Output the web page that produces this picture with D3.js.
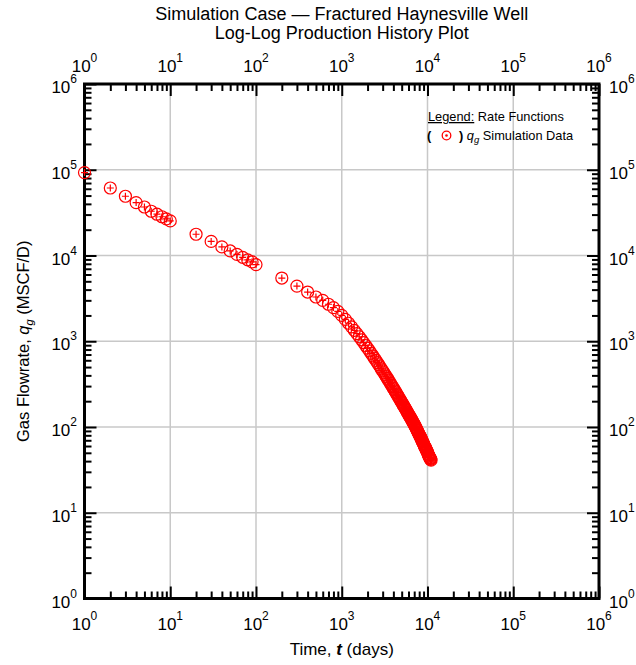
<!DOCTYPE html>
<html>
<head>
<meta charset="utf-8">
<script src="https://cdn.jsdelivr.net/npm/d3@7"></script>
<style>
  body { margin: 0; background: #fff; }
  text { font-family: "Liberation Sans", Arial, sans-serif; }
</style>
</head>
<body>
<script>
var width = 636;
var height = 665;

// time (days)
var tEarly = [1, 2, 3, 4, 5, 6, 7, 8, 9, 10,
              20, 30, 40, 50, 60, 70, 80, 90, 100,
              200, 300, 400, 500, 600, 700, 800, 900];
// gas rate (MSCF/D)
var qEarly = [92700, 61300, 49100, 41400, 36800, 32800, 30300, 28300, 26700, 25300,
              17700, 14600, 12600, 11300, 10300, 9530, 8910, 8440, 7830,
              5460, 4400, 3750, 3280, 3000, 2700, 2470, 2230];

// after 1000 days every 100 days
var tLate = d3.range(1000, 11001, 100);
var qLate = [2000, 1796, 1622, 1472, 1342, 1228, 1128, 1040, 962, 892,
             830, 774, 723, 677, 636, 598, 563, 532, 503, 476,
             451, 429, 407, 388, 370, 353, 337, 322, 308, 295,
             283, 272, 261, 251, 241, 232, 224, 216, 208, 201,
             194, 188, 181, 176, 170, 165, 159, 155, 150, 146,
             141, 137, 133, 130, 126, 123, 119, 116, 113, 110,
             107, 105, 101, 99, 96, 93, 91, 88, 86, 84,
             81, 80, 78, 76, 74, 72, 70, 68, 67, 65,
             64, 62, 60, 59, 58, 57, 55, 54, 53, 52,
             51, 49, 48, 47, 46, 45, 44, 43, 43, 42, 41];

var decades = [1, 10, 100, 1000, 10000, 100000, 1000000];
var decadeExp = ["0", "1", "2", "3", "4", "5", "6"];

var titleLines = ["Simulation Case \u2014 Fractured Haynesville Well", "Log-Log Production History Plot"];

var data = [];
tEarly.forEach(function(t, i) { data.push({t: t, q: qEarly[i]}); });
tLate.forEach(function(t, i) { data.push({t: t, q: qLate[i]}); });

var minors = [];
decades.slice(0, 6).forEach(function(d) {
  for (var k = 2; k <= 9; k++) minors.push(d * k);
});

// plot box (don't use "top" - window.top)
var pL = 84.5, pR = 599, pT = 84, pB = 598.5;

var x = d3.scaleLog().domain([1, 1e6]).range([pL, pR]);
var y = d3.scaleLog().domain([1, 1e6]).range([pB, pT]);

var svg = d3.select("body")
            .append("svg")
            .attr("width", width)
            .attr("height", height);

//////////////////// grid ////////////////////
svg.selectAll("line.gx")
   .data(decades.slice(1, 6))
   .enter()
   .append("line")
   .attr("x1", function(d) { return x(d); })
   .attr("x2", function(d) { return x(d); })
   .attr("y1", pT)
   .attr("y2", pB)
   .style("stroke", "#c8c8c8")
   .style("stroke-width", 1.5);

svg.selectAll("line.gy")
   .data(decades.slice(1, 6))
   .enter()
   .append("line")
   .attr("y1", function(d) { return y(d); })
   .attr("y2", function(d) { return y(d); })
   .attr("x1", pL)
   .attr("x2", pR)
   .style("stroke", "#c8c8c8")
   .style("stroke-width", 1.5);

//////////////////// axes (ticks inside) ////////////////////
function ticks(axisFn, scale, vals, size, tx, ty) {
  var g = svg.append("g")
     .attr("transform", "translate(" + tx + "," + ty + ")")
     .call(axisFn(scale).tickValues(vals).tickSize(size).tickFormat(""));
  g.select(".domain").remove();
  g.selectAll(".tick line").style("stroke", "#000").style("stroke-width", 2);
}
ticks(d3.axisBottom, x, decades, -12, 0, pB);
ticks(d3.axisBottom, x, minors, -7, 0, pB);
ticks(d3.axisTop, x, decades, -12, 0, pT);
ticks(d3.axisTop, x, minors, -7, 0, pT);
ticks(d3.axisLeft, y, decades, -12, pL, 0);
ticks(d3.axisLeft, y, minors, -7, pL, 0);
ticks(d3.axisRight, y, decades, -12, pR, 0);
ticks(d3.axisRight, y, minors, -7, pR, 0);

svg.append("rect")
   .attr("x", pL)
   .attr("y", pT)
   .attr("width", pR - pL)
   .attr("height", pB - pT)
   .attr("fill", "none")
   .style("stroke", "#000")
   .style("stroke-width", 3);

//////////////////// tick labels 10^n ////////////////////
function powLabel(sel) {
  sel.append("tspan").text("10");
  sel.append("tspan")
     .attr("dy", -10)
     .style("font-size", "12px")
     .text(function(d, i) { return decadeExp[i]; });
}

svg.selectAll("text.bx")
   .data(decades)
   .enter()
   .append("text")
   .attr("x", function(d) { return x(d); })
   .attr("y", pB + 31)
   .attr("text-anchor", "middle")
   .style("font-size", "17px")
   .call(powLabel);

svg.selectAll("text.tx")
   .data(decades)
   .enter()
   .append("text")
   .attr("x", function(d) { return x(d); })
   .attr("y", pT - 12)
   .attr("text-anchor", "middle")
   .style("font-size", "17px")
   .call(powLabel);

svg.selectAll("text.ly")
   .data(decades)
   .enter()
   .append("text")
   .attr("x", pL - 7.5)
   .attr("y", function(d) { return y(d) + 9; })
   .attr("text-anchor", "end")
   .style("font-size", "17px")
   .call(powLabel);

svg.selectAll("text.ry")
   .data(decades)
   .enter()
   .append("text")
   .attr("x", pR + 10)
   .attr("y", function(d) { return y(d) + 9; })
   .attr("text-anchor", "start")
   .style("font-size", "17px")
   .call(powLabel);

//////////////////// titles ////////////////////
svg.selectAll("text.title")
   .data(titleLines)
   .enter()
   .append("text")
   .attr("x", (pL + pR) / 2)
   .attr("y", function(d, i) { return 20 + i * 19; })
   .attr("text-anchor", "middle")
   .style("font-size", "18px")
   .text(function(d) { return d; });

var xt = svg.append("text")
   .attr("x", (pL + pR) / 2)
   .attr("y", 655)
   .attr("text-anchor", "middle")
   .style("font-size", "17px");
xt.append("tspan").text("Time, ");
xt.append("tspan").style("font-style", "italic").style("font-weight", "bold").text("t");
xt.append("tspan").text(" (days)");

var yt = svg.append("text")
   .attr("transform", "translate(29," + ((pT + pB) / 2) + ") rotate(-90)")
   .attr("text-anchor", "middle")
   .style("font-size", "16.5px");
yt.append("tspan").text("Gas Flowrate, ");
yt.append("tspan").style("font-style", "italic").text("q");
yt.append("tspan").style("font-style", "italic").style("font-size", "11px").attr("dy", 4).text("g");
yt.append("tspan").attr("dy", -4).text(" (MSCF/D)");

//////////////////// data ////////////////////
var pts = svg.selectAll("g.pt")
   .data(data)
   .enter()
   .append("g")
   .attr("transform", function(d) { return "translate(" + x(d.t) + "," + y(d.q) + ")"; });

pts.append("circle")
   .attr("r", 6)
   .attr("fill", "none")
   .style("stroke", "#ff0000")
   .style("stroke-width", 1.2);
pts.append("path")
   .attr("d", "M-3.5,0H3.5M0,-3.5V3.5")
   .style("stroke", "#ff0000")
   .style("stroke-width", 1.2);

//////////////////// legend ////////////////////
var lg = svg.append("text")
   .attr("x", 428)
   .attr("y", 121)
   .style("font-size", "12.8px");
lg.append("tspan").style("text-decoration", "underline").text("Legend:");
lg.append("tspan").text(" Rate Functions");

svg.append("text")
   .attr("x", 427)
   .attr("y", 140)
   .style("font-size", "12.8px")
   .style("font-weight", "bold")
   .text("(");
svg.append("circle")
   .attr("cx", 446.5)
   .attr("cy", 135.5)
   .attr("r", 4.3)
   .attr("fill", "none")
   .style("stroke", "#ff0000")
   .style("stroke-width", 1.3);
svg.append("circle")
   .attr("cx", 446.5)
   .attr("cy", 135.5)
   .attr("r", 1.3)
   .attr("fill", "#ff0000");
var l2 = svg.append("text")
   .attr("x", 459)
   .attr("y", 140)
   .style("font-size", "12.8px");
l2.append("tspan").style("font-weight", "bold").text(") ");
l2.append("tspan").style("font-style", "italic").text("q");
l2.append("tspan").style("font-style", "italic").style("font-size", "9.5px").attr("dy", 3).text("g");
l2.append("tspan").attr("dy", -3).text(" Simulation Data");
</script>
</body>
</html>
